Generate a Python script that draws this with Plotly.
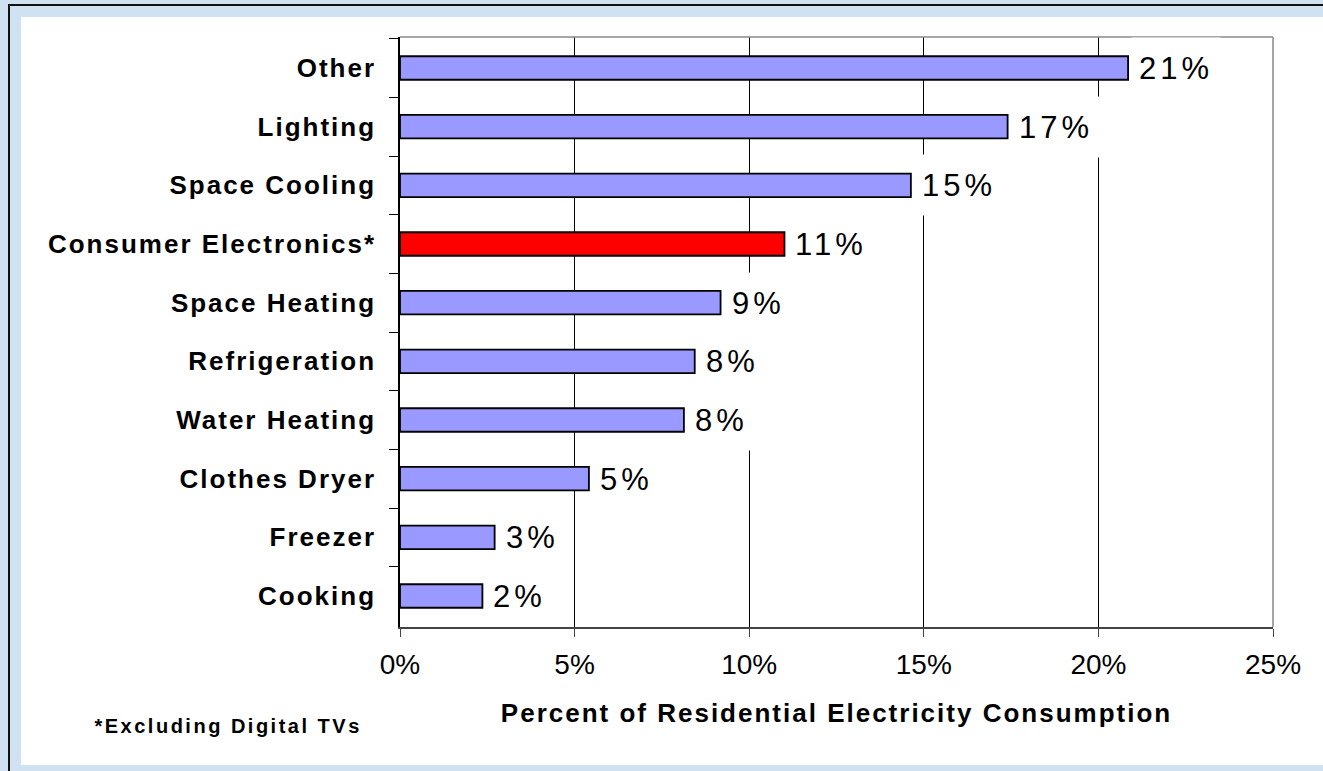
import plotly.graph_objects as go

# ---------------- data ----------------
categories = ["Other", "Lighting", "Space Cooling", "Consumer Electronics*",
              "Space Heating", "Refrigeration", "Water Heating",
              "Clothes Dryer", "Freezer", "Cooking"]
values = [20.85, 17.4, 14.63, 11.01, 9.18, 8.44, 8.13, 5.41, 2.71, 2.36]
highlight = "Consumer Electronics*"
x_ticks = [0, 5, 10, 15, 20, 25]
x_tick_labels = ["0%", "5%", "10%", "15%", "20%", "25%"]
axis_title = "Percent of Residential Electricity Consumption"
footnote = "*Excluding Digital TVs"

# ---------------- layout geometry ----------------
W, H = 1323, 771
L, R, T, B = 400, 50, 37, 144
PW, PH = W - L - R, H - T - B
FONT = "Liberation Sans, Arial, Helvetica, sans-serif"
BAR = "#9999ff"
HL = "#ff0000"
FRAME_BG = "#d0e2f2"


def px2x(px):
    return (px - L) / PW


def py2y(py):
    return (H - B - py) / PH


colors = [HL if c == highlight else BAR for c in categories]

fig = go.Figure()
fig.add_trace(go.Bar(
    x=values, y=categories, orientation="h",
    marker=dict(color=colors, line=dict(color="black", width=1.8)),
    width=0.4, hoverinfo="skip",
))

annotations = []
for c, v in zip(categories, values):
    annotations.append(dict(
        x=v, y=c, xref="x", yref="y", text=f"{round(v)}%",
        showarrow=False, xanchor="left", yanchor="middle", align="left",
        xshift=3, bgcolor="white", borderpad=7, height=46,
        font=dict(family=FONT, size=31, color="black"),
    ))
annotations.append(dict(
    x=px2x(228), y=py2y(726), xref="paper", yref="paper", text=footnote,
    showarrow=False, xanchor="center", yanchor="middle",
    font=dict(family=FONT, size=20, color="black", weight="bold"),
))

shapes = [
    # white inner panel
    dict(type="rect", xref="paper", yref="paper", layer="below",
         x0=px2x(21), x1=px2x(1340), y0=py2y(765), y1=py2y(17),
         fillcolor="white", line=dict(width=0)),
    # black frame line (top & left)
    dict(type="path", xref="paper", yref="paper", layer="below",
         path=f"M {px2x(9)},{py2y(800)} L {px2x(9)},{py2y(5)} L {px2x(1340)},{py2y(5)}",
         line=dict(color="#111111", width=2)),
    # plot-area border top & right (gray)
    dict(type="line", xref="paper", yref="paper", layer="above",
         x0=0, x1=1, y0=1, y1=1, line=dict(color="#888888", width=1.5)),
    dict(type="line", xref="paper", yref="paper", layer="above",
         x0=1, x1=1, y0=0, y1=1, line=dict(color="#888888", width=1.5)),
]

fig.update_layout(
    width=W, height=H,
    margin=dict(l=L, r=R, t=T, b=B, pad=0),
    paper_bgcolor=FRAME_BG, plot_bgcolor="white",
    showlegend=False, bargap=0.6,
    annotations=annotations, shapes=shapes,
    font=dict(family=FONT, color="black"),
    xaxis=dict(
        range=[0, 25], tickmode="array", tickvals=x_ticks, ticktext=x_tick_labels,
        showgrid=True, gridcolor="black", gridwidth=1, zeroline=False,
        showline=True, linecolor="#444444", linewidth=1.5,
        ticks="outside", ticklen=8, tickcolor="#444444", tickwidth=1,
        tickfont=dict(family=FONT, size=28, color="black"),
        ticklabelstandoff=4,
        title=dict(text=axis_title, standoff=24,
                   font=dict(family=FONT, size=26, color="black", weight="bold")),
        automargin=False, fixedrange=True,
    ),
    yaxis=dict(
        type="category", categoryorder="array", categoryarray=categories,
        autorange="reversed", showgrid=False, zeroline=False,
        showline=True, linecolor="black", linewidth=1.5,
        ticks="outside", tickson="boundaries", ticklen=9, tickcolor="black", tickwidth=1,
        tickfont=dict(family=FONT, size=26, color="black", weight="bold"),
        ticklabelstandoff=17,
        automargin=False, fixedrange=True,
    ),
)

post = """
document.body.style.margin = '0';
var gd = document.getElementById('{plot_id}');
gd.querySelectorAll('.ytick text').forEach(function(t){ t.style.letterSpacing = '2px'; });
gd.querySelectorAll('text.xtitle').forEach(function(t){ t.style.letterSpacing = '2px'; });
gd.querySelectorAll('g.annotation-text-g').forEach(function(g){
    var t = g.querySelector('text.annotation-text');
    if (!t) return;
    var fs = parseFloat(t.style.fontSize || '0');
    var sp = fs > 25 ? 4 : 2.5;
    t.style.letterSpacing = sp + 'px';
    t.removeAttribute('clip-path');
    t.style.clipPath = 'none';
    if (fs > 25) {
        var r = g.querySelector('rect.bg');
        if (r) {
            var w = parseFloat(r.getAttribute('width'));
            r.setAttribute('width', w + sp * t.textContent.length);
        }
    }
});
"""

fig.write_html("out.html", post_script=post, config={"displayModeBar": False})
